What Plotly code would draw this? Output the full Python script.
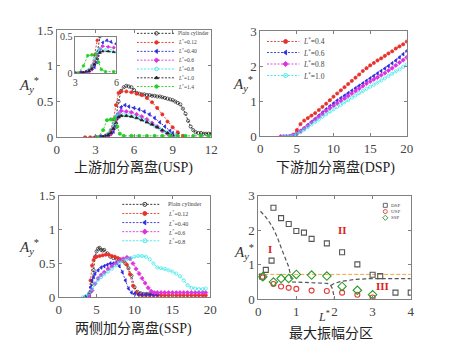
import plotly.graph_objects as go

W, H = 450, 358

# ---------------- Panel 1: USP ----------------
usp_plain_x = [3.0, 3.4, 3.8, 4.0, 4.2, 4.4, 4.6, 4.8, 5.0, 5.2, 5.4, 5.6, 5.8, 6.0, 6.2, 6.4, 6.6, 6.8, 7.0, 7.2, 7.4, 7.6, 7.8, 8.0,
               8.2, 8.4, 8.6, 8.8, 9.0, 9.2, 9.4, 9.6, 9.8, 10.0, 10.2, 10.4, 10.6, 10.8, 11.0, 11.2, 11.4, 11.6, 11.8, 12.0]
usp_plain_y = [0.0, 0.01, 0.02, 0.04, 0.08, 0.15, 0.28, 0.5, 0.65, 0.7, 0.72, 0.71, 0.7, 0.66, 0.62, 0.61, 0.6, 0.6, 0.59, 0.59, 0.58, 0.58, 0.57, 0.57,
               0.56, 0.55, 0.54, 0.53, 0.52, 0.5, 0.48, 0.46, 0.4, 0.33, 0.23, 0.15, 0.1, 0.07, 0.06, 0.06, 0.05, 0.05, 0.05, 0.05]
usp_012_x = [2.2, 2.6, 3.0, 3.4, 3.8, 4.0, 4.2, 4.4, 4.6, 4.8, 5.0, 5.4, 5.8, 6.2, 6.6, 7.0, 7.4, 7.8, 8.2, 8.6, 9.0, 9.4, 9.8]
usp_012_y = [0.0, 0.0, 0.0, 0.01, 0.02, 0.04, 0.1, 0.25, 0.45, 0.62, 0.64, 0.64, 0.63, 0.61, 0.59, 0.55, 0.49, 0.41, 0.32, 0.22, 0.14, 0.07, 0.02]
usp_040_x = [3.0, 3.4, 3.8, 4.0, 4.2, 4.4, 4.6, 4.8, 5.0, 5.3, 5.6, 6.0, 6.4, 6.8, 7.2, 7.6, 8.0, 8.4, 8.8, 9.0, 9.4]
usp_040_y = [0.0, 0.01, 0.02, 0.03, 0.05, 0.08, 0.15, 0.3, 0.42, 0.45, 0.43, 0.41, 0.39, 0.36, 0.32, 0.27, 0.21, 0.15, 0.09, 0.06, 0.03]
usp_06_x = [3.6, 4.0, 4.2, 4.4, 4.6, 4.8, 5.0, 5.4, 5.8, 6.2, 6.6, 7.0, 7.4, 7.8, 8.2, 8.6, 9.0]
usp_06_y = [0.0, 0.02, 0.05, 0.12, 0.25, 0.33, 0.37, 0.36, 0.35, 0.32, 0.29, 0.25, 0.2, 0.15, 0.09, 0.05, 0.03]
usp_08_x = [3.6, 4.0, 4.2, 4.4, 4.6, 4.8, 5.2, 5.6, 6.0, 6.4, 6.8, 7.2, 7.6, 8.0, 8.4, 8.8, 9.2]
usp_08_y = [0.0, 0.05, 0.1, 0.2, 0.3, 0.33, 0.32, 0.31, 0.29, 0.27, 0.24, 0.2, 0.16, 0.12, 0.08, 0.05, 0.03]
usp_10_x = [3.2, 3.6, 4.0, 4.2, 4.4, 4.6, 4.8, 5.0, 5.4, 5.8, 6.2, 6.6, 7.0, 7.4, 7.8, 8.2, 8.6, 9.0]
usp_10_y = [0.0, 0.01, 0.03, 0.06, 0.12, 0.2, 0.28, 0.3, 0.3, 0.29, 0.27, 0.24, 0.21, 0.18, 0.14, 0.1, 0.06, 0.03]
usp_14_x = [3.2, 3.6, 3.9, 4.2, 4.5, 4.7, 4.9, 5.2, 5.8, 6.4, 7.0, 7.6, 8.2, 8.8, 9.4, 10.0, 10.6, 11.2, 11.8]
usp_14_y = [0.0, 0.1, 0.24, 0.25, 0.26, 0.15, 0.05, 0.02, 0.02, 0.02, 0.02, 0.02, 0.02, 0.02, 0.02, 0.02, 0.02, 0.02, 0.02]
usp_names = ["Plain cylinder", "<i>L</i><sup>*</sup>=0.12", "<i>L</i><sup>*</sup>=0.40", "<i>L</i><sup>*</sup>=0.6",
             "<i>L</i><sup>*</sup>=0.8", "<i>L</i><sup>*</sup>=1.0", "<i>L</i><sup>*</sup>=1.4"]

# ---------------- Panel 2: DSP ----------------
dsp_04_x = [4.0, 4.5, 5.0, 5.5, 6.0, 6.5, 7.0, 7.5, 8.0, 8.5, 9.0, 9.5, 10.0, 10.5, 11.0, 11.5, 12.0, 12.5, 13.0, 13.5, 14.0, 14.5, 15.0, 15.5, 16.0, 16.5, 17.0, 17.5, 18.0, 18.5, 19.0, 19.5, 20.0]
dsp_04_y = [0.0, 0.05, 0.18, 0.35, 0.45, 0.52, 0.59, 0.66, 0.75, 0.84, 0.93, 1.03, 1.13, 1.22, 1.31, 1.4, 1.49, 1.58, 1.67, 1.76, 1.86, 1.94, 2.02, 2.09, 2.16, 2.22, 2.29, 2.36, 2.42, 2.5, 2.56, 2.62, 2.7]
dsp_06_x = [3.5, 4.0, 4.5, 5.0, 5.5, 6.0, 6.5, 7.0, 7.5, 8.0, 8.5, 9.0, 9.5, 10.0, 10.5, 11.0, 11.5, 12.0, 12.5, 13.0, 13.5, 14.0, 14.5, 15.0, 15.5, 16.0, 16.5, 17.0, 17.5, 18.0, 18.5, 19.0, 19.5, 20.0]
dsp_06_y = [0.0, 0.0, 0.03, 0.08, 0.15, 0.23, 0.32, 0.41, 0.5, 0.59, 0.68, 0.77, 0.86, 0.94, 1.02, 1.09, 1.16, 1.23, 1.3, 1.37, 1.44, 1.51, 1.58, 1.65, 1.72, 1.79, 1.86, 1.93, 2.0, 2.08, 2.16, 2.25, 2.34, 2.43]
dsp_08_x = [2.8, 3.2, 3.6, 4.0, 4.5, 5.0, 5.5, 6.0, 6.5, 7.0, 7.5, 8.0, 8.5, 9.0, 9.5, 10.0, 10.5, 11.0, 11.5, 12.0, 12.5, 13.0, 13.5, 14.0, 14.5, 15.0, 15.5, 16.0, 16.5, 17.0, 17.5, 18.0, 18.5, 19.0, 19.5, 20.0]
dsp_08_y = [0.0, 0.0, 0.0, 0.0, 0.03, 0.08, 0.15, 0.23, 0.31, 0.4, 0.48, 0.56, 0.64, 0.72, 0.8, 0.87, 0.94, 1.01, 1.08, 1.15, 1.22, 1.29, 1.36, 1.43, 1.5, 1.56, 1.62, 1.68, 1.74, 1.8, 1.87, 1.94, 2.02, 2.1, 2.17, 2.25]
dsp_10_x = [3.2, 3.6, 4.0, 4.5, 5.0, 5.5, 6.0, 6.5, 7.0, 7.5, 8.0, 8.5, 9.0, 9.5, 10.0, 10.5, 11.0, 11.5, 12.0, 12.5, 13.0, 13.5, 14.0, 14.5, 15.0, 15.5, 16.0, 16.5, 17.0, 17.5, 18.0, 18.5, 19.0, 19.5, 20.0]
dsp_10_y = [0.0, 0.0, 0.0, 0.02, 0.06, 0.12, 0.19, 0.26, 0.34, 0.41, 0.48, 0.56, 0.63, 0.7, 0.77, 0.84, 0.9, 0.97, 1.03, 1.1, 1.16, 1.23, 1.29, 1.35, 1.41, 1.47, 1.53, 1.59, 1.65, 1.72, 1.78, 1.85, 1.91, 1.98, 2.05]
dsp_names = ["<i>L</i><sup>*</sup>=0.4", "<i>L</i><sup>*</sup>=0.6", "<i>L</i><sup>*</sup>=0.8", "<i>L</i><sup>*</sup>=1.0"]

# ---------------- Panel 3: SSP ----------------
ssp_plain_x = [3.5, 4.0, 4.2, 4.4, 4.6, 4.8, 5.0, 5.2, 5.4, 5.6, 5.8, 6.0, 6.4, 6.8, 7.2, 7.6, 8.0, 8.4, 8.8, 9.2, 9.6, 10.0, 10.4, 10.8, 11.2, 11.6, 12.0, 12.4, 12.8, 13.2]
ssp_plain_y = [0.0, 0.02, 0.08, 0.2, 0.4, 0.6, 0.68, 0.72, 0.73, 0.7, 0.69, 0.7, 0.65, 0.6, 0.58, 0.57, 0.56, 0.54, 0.5, 0.43, 0.32, 0.15, 0.08, 0.06, 0.05, 0.05, 0.05, 0.05, 0.05, 0.05]
ssp_012_x = [3.5, 4.0, 4.2, 4.4, 4.6, 4.8, 5.0, 5.4, 5.8, 6.2, 6.6, 7.0, 7.4, 7.8, 8.2, 8.6, 9.0, 9.4, 9.8, 10.2, 10.6, 11.0, 11.5, 12.0, 12.5, 13.0, 13.5, 14.0, 14.5, 15.0, 15.5, 16.0, 16.5, 17.0, 17.5, 18.0, 18.5, 19.0, 19.4]
ssp_012_y = [0.0, 0.05, 0.25, 0.47, 0.55, 0.59, 0.6, 0.61, 0.62, 0.63, 0.63, 0.61, 0.6, 0.58, 0.56, 0.53, 0.48, 0.34, 0.17, 0.07, 0.04, 0.03, 0.03, 0.03, 0.03, 0.03, 0.03, 0.03, 0.03, 0.03, 0.03, 0.03, 0.03, 0.03, 0.03, 0.03, 0.03, 0.03, 0.03]
ssp_040_x = [3.5, 4.0, 4.2, 4.4, 4.6, 4.8, 5.2, 5.6, 6.0, 6.4, 6.8, 7.2, 7.6, 8.0, 8.4, 8.8, 9.2, 9.6, 10.0, 10.5, 11.0, 11.5, 12.0, 12.5, 13.0]
ssp_040_y = [0.0, 0.04, 0.15, 0.25, 0.3, 0.35, 0.4, 0.44, 0.46, 0.48, 0.5, 0.5, 0.51, 0.46, 0.37, 0.25, 0.13, 0.07, 0.05, 0.04, 0.04, 0.04, 0.04, 0.04, 0.04]
ssp_06_x = [4.0, 4.4, 4.8, 5.2, 5.6, 6.0, 6.5, 7.0, 7.5, 8.0, 8.5, 9.0, 9.4, 9.8, 10.2, 10.6, 11.0, 11.4, 11.8, 12.2, 12.6, 13.0, 13.5, 14.0, 14.5, 15.0, 15.5, 16.0, 16.5, 17.0, 17.5, 18.0, 18.5, 19.0, 19.4]
ssp_06_y = [0.02, 0.1, 0.2, 0.28, 0.33, 0.37, 0.42, 0.46, 0.5, 0.54, 0.57, 0.59, 0.57, 0.5, 0.42, 0.35, 0.28, 0.21, 0.14, 0.09, 0.07, 0.07, 0.07, 0.07, 0.07, 0.07, 0.07, 0.07, 0.07, 0.07, 0.07, 0.07, 0.07, 0.07, 0.07]
ssp_08_x = [3.2, 3.6, 4.0, 4.4, 4.8, 5.2, 5.6, 6.0, 6.5, 7.0, 7.5, 8.0, 8.5, 9.0, 9.5, 10.0, 10.5, 11.0, 11.5, 12.0, 12.5, 13.0, 13.5, 14.0, 14.5, 15.0, 15.5, 16.0, 16.5, 17.0, 17.5, 18.0, 18.5, 19.0, 19.4]
ssp_08_y = [0.0, 0.02, 0.06, 0.12, 0.2, 0.26, 0.3, 0.34, 0.38, 0.42, 0.47, 0.51, 0.54, 0.56, 0.58, 0.6, 0.61, 0.61, 0.6, 0.56, 0.5, 0.44, 0.43, 0.42, 0.4, 0.38, 0.35, 0.31, 0.25, 0.18, 0.14, 0.13, 0.12, 0.12, 0.13]
ssp_names = ["Plain cylinder", "<i>L</i><sup>*</sup>=0.12", "<i>L</i><sup>*</sup>=0.40", "<i>L</i><sup>*</sup>=0.6", "<i>L</i><sup>*</sup>=0.8"]

# ---------------- Panel 4: max amplitude zones ----------------
zone_dsp_L = [0.1, 0.2, 0.35, 0.4, 0.6, 0.8, 1.0, 1.2, 1.4, 1.8, 2.2, 2.6, 3.0, 3.2, 3.6, 4.0]
zone_dsp_A = [0.66, 0.85, 1.12, 2.65, 2.35, 2.18, 1.98, 1.93, 1.75, 1.62, 1.36, 1.01, 0.71, 0.67, 0.19, 0.19]
zone_usp_L = [0.12, 0.4, 0.6, 0.8, 1.0, 1.4, 1.8, 2.2, 2.6, 3.0]
zone_usp_A = [0.63, 0.44, 0.37, 0.33, 0.3, 0.25, 0.24, 0.19, 0.13, 0.05]
zone_ssp_L = [0.12, 0.4, 0.6, 0.8, 1.0, 1.4, 1.8, 2.2, 2.6, 3.0]
zone_ssp_A = [0.65, 0.5, 0.6, 0.6, 0.72, 0.7, 0.67, 0.37, 0.26, 0.13]
bound1_L = [0.06, 0.2, 0.36, 0.5, 0.62, 0.72, 0.79, 0.84, 0.87, 0.9, 1.2, 1.5, 1.81, 1.9, 1.95, 2.0]
bound1_A = [2.55, 2.38, 2.13, 1.8, 1.44, 1.18, 0.97, 0.75, 0.56, 0.5, 0.49, 0.48, 0.46, 0.4, 0.3, 0.0]
bound2_L = [1.9, 2.0, 2.15, 2.3, 2.5, 2.8, 3.0, 3.5, 4.0]
bound2_A = [0.4, 0.46, 0.51, 0.54, 0.57, 0.59, 0.6, 0.6, 0.6]
plain_ref_L = [0.0, 4.0]
plain_ref_A = [0.72, 0.72]
zone_names = ["DSP", "USP", "SSP"]
zone_labels = ["I", "II", "III"]
zone_label_L = [0.3, 2.2, 3.27]
zone_label_A = [1.45, 2.0, 0.37]

# ---------------- styling ----------------
SERIF = "Liberation Serif, Times New Roman, serif"
CJK = "Liberation Serif, Noto Sans CJK SC, serif"
AX = "#808080"
DASH = "2px,1.5px"

C_BLACK = "#222222"
C_RED = "#e8302a"
C_BLUE = "#2a2ae0"
C_MAG = "#e030e0"
C_CYAN = "#30e8e8"
C_GREEN = "#20d020"

usp_series = [
    (usp_plain_x, usp_plain_y, C_BLACK, "circle-open"),
    (usp_012_x, usp_012_y, C_RED, "circle"),
    (usp_040_x, usp_040_y, C_BLUE, "triangle-left"),
    (usp_06_x, usp_06_y, C_MAG, "diamond"),
    (usp_08_x, usp_08_y, C_CYAN, "circle-open"),
    (usp_10_x, usp_10_y, C_BLACK, "triangle-up"),
    (usp_14_x, usp_14_y, C_GREEN, "circle"),
]
dsp_series = [
    (dsp_04_x, dsp_04_y, C_RED, "circle"),
    (dsp_06_x, dsp_06_y, C_BLUE, "triangle-left"),
    (dsp_08_x, dsp_08_y, C_MAG, "diamond"),
    (dsp_10_x, dsp_10_y, C_CYAN, "circle-open"),
]
ssp_series = [
    (ssp_plain_x, ssp_plain_y, C_BLACK, "circle-open"),
    (ssp_012_x, ssp_012_y, C_RED, "circle"),
    (ssp_040_x, ssp_040_y, C_BLUE, "triangle-left"),
    (ssp_06_x, ssp_06_y, C_MAG, "diamond"),
    (ssp_08_x, ssp_08_y, C_CYAN, "circle-open"),
]

fig = go.Figure()


def add_series(series, xa, ya, msize=3.2):
    for x, y, c, sym in series:
        fig.add_trace(go.Scatter(
            x=x, y=y, xaxis=xa, yaxis=ya, mode="lines+markers", showlegend=False,
            line=dict(color=c, width=0.9, dash=DASH),
            marker=dict(color=c, symbol=sym, size=msize, line=dict(color=c, width=0.7)),
            hoverinfo="skip"))


add_series(usp_series, "x", "y")
add_series(usp_series, "x5", "y5", msize=2.6)
add_series(dsp_series, "x2", "y2")
add_series(ssp_series, "x3", "y3")

# panel 4
fig.add_trace(go.Scatter(x=plain_ref_L, y=plain_ref_A, xaxis="x4", yaxis="y4", mode="lines", showlegend=False,
                         line=dict(color="#f2a540", width=1, dash="4px,2px"), hoverinfo="skip"))
for bx, by in [(bound1_L, bound1_A), (bound2_L, bound2_A)]:
    fig.add_trace(go.Scatter(x=bx, y=by, xaxis="x4", yaxis="y4", mode="lines", showlegend=False,
                             line=dict(color="#555555", width=1.2, dash="4px,2.5px"), hoverinfo="skip"))
zone_sets = [
    (zone_dsp_L, zone_dsp_A, "#555555", "square-open"),
    (zone_usp_L, zone_usp_A, "#e03a3a", "circle-open"),
    (zone_ssp_L, zone_ssp_A, "#2a9a2a", "diamond-open"),
]
for x, y, c, sym in zone_sets:
    fig.add_trace(go.Scatter(x=x, y=y, xaxis="x4", yaxis="y4", mode="markers", showlegend=False,
                             marker=dict(color=c, symbol=sym, size=5 if sym != "diamond-open" else 6.5,
                                         line=dict(color=c, width=1.1)),
                             hoverinfo="skip"))

# ---------------- custom legends on a pixel overlay axis ----------------
annotations = []


def legend_block(series, names, x0, x1, xm, xt, rows, fsize, msize, line=True):
    for (s, name, yy) in zip(series, names, rows):
        c, sym = s[2], s[3]
        if line:
            fig.add_trace(go.Scatter(x=[x0, x1], y=[yy, yy], xaxis="x6", yaxis="y6", mode="lines",
                                     showlegend=False, line=dict(color=c, width=0.9, dash=DASH), hoverinfo="skip"))
        fig.add_trace(go.Scatter(x=[xm], y=[yy], xaxis="x6", yaxis="y6", mode="markers", showlegend=False,
                                 marker=dict(color=c, symbol=sym, size=msize, line=dict(color=c, width=0.9)),
                                 hoverinfo="skip"))
        annotations.append(dict(x=xt, y=yy, xref="x6", yref="y6", text=name, showarrow=False,
                                xanchor="left", yanchor="middle",
                                font=dict(family=SERIF, size=fsize, color="#444")))


legend_block(usp_series, usp_names, 137, 175, 157, 177, [27.5, 37, 46.3, 55.5, 64.7, 73.9, 83], 5.5, 3.5)
legend_block(dsp_series, dsp_names, 270, 303, 289, 305, [36, 47.5, 59.5, 71.5], 7.5, 4)
legend_block(ssp_series, ssp_names, 122, 160, 145, 167, [206, 215.5, 225, 234.5, 244], 6, 4)
legend_block(zone_sets, zone_names, 0, 0, 391, 395, [207, 213.5, 220], 5, 4, line=False)


# ---------------- axes ----------------
def px(x):
    return x / W


def py(y):
    return 1 - y / H


def axis(dom, rng, tickvals, anchor, fsize=13, ticklen=3):
    return dict(domain=dom, range=rng, tickvals=tickvals, anchor=anchor, showline=True, linecolor=AX,
                linewidth=0.8, mirror="ticks", ticks="inside", ticklen=ticklen, tickwidth=0.8, tickcolor=AX,
                showgrid=False, zeroline=False, fixedrange=True,
                tickfont=dict(family=SERIF, size=fsize, color="#444"))


fig.update_layout(
    width=W, height=H, autosize=False, margin=dict(l=0, r=0, t=0, b=0),
    paper_bgcolor="white", plot_bgcolor="rgba(0,0,0,0)", showlegend=False,
    xaxis=axis([px(55), px(213)], [0, 12], [0, 3, 6, 9, 12], "y"),
    yaxis=axis([py(136), py(24)], [0, 1.5], [0, 0.5, 1, 1.5], "x"),
    xaxis2=axis([px(263), px(413)], [0, 20], [0, 5, 10, 15, 20], "y2"),
    yaxis2=axis([py(135), py(25)], [0, 3], [0, 1, 2, 3], "x2"),
    xaxis3=axis([px(57), px(212)], [0, 20], [0, 5, 10, 15, 20], "y3"),
    yaxis3=axis([py(303), py(197)], [0, 1.5], [0, 0.5, 1, 1.5], "x3"),
    xaxis4=axis([px(261), px(417)], [0, 4], [0, 1, 2, 3, 4], "y4"),
    yaxis4=axis([py(305), py(197)], [0, 3], [0, 1, 2, 3], "x4"),
    xaxis5=axis([px(74), px(116)], [3, 6], [3, 6], "y5", fsize=10, ticklen=2),
    yaxis5=axis([py(69), py(31)], [0, 0.5], [0, 0.5], "x5", fsize=10, ticklen=2),
    xaxis6=dict(domain=[0, 1], range=[0, W], visible=False, anchor="y6", fixedrange=True),
    yaxis6=dict(domain=[0, 1], range=[H, 0], visible=False, anchor="x6", fixedrange=True),
)

# y-axis titles
for (xx, yy) in [(27, 81), (245, 80), (27, 251), (246, 256)]:
    annotations.append(dict(x=px(xx), y=py(yy), xref="paper", yref="paper", showarrow=False,
                            xanchor="center", yanchor="middle",
                            text="<i>A</i><sub><i>y</i></sub><sup>*</sup>",
                            font=dict(family=SERIF, size=15, color="#333")))
# panel 4 x title
annotations.append(dict(x=px(328), y=py(323), xref="paper", yref="paper", showarrow=False,
                        xanchor="center", yanchor="middle",
                        text="<i>L</i><sup>*</sup>", font=dict(family=SERIF, size=12, color="#333")))
# subplot captions
for (xx, yy, t) in [(133, 168, "上游加分离盘(USP)"), (340, 168, "下游加分离盘(DSP)"),
                    (133, 336, "两侧加分离盘(SSP)"), (335, 341, "最大振幅分区")]:
    annotations.append(dict(x=px(xx), y=py(yy), xref="paper", yref="paper", showarrow=False, text=t,
                            xanchor="center", yanchor="middle",
                            font=dict(family=CJK, size=14, color="#222")))
# zone labels
for (xx, yy, t) in zip(zone_label_L, zone_label_A, zone_labels):
    annotations.append(dict(x=xx, y=yy, xref="x4", yref="y4", showarrow=False, text="<b>%s</b>" % t,
                            xanchor="center", yanchor="middle",
                            font=dict(family=SERIF, size=11, color="#e02020")))

fig.update_layout(annotations=annotations)
fig.write_html("out.html", config={"displayModeBar": False},
               post_script="document.body.style.margin='0px';")
